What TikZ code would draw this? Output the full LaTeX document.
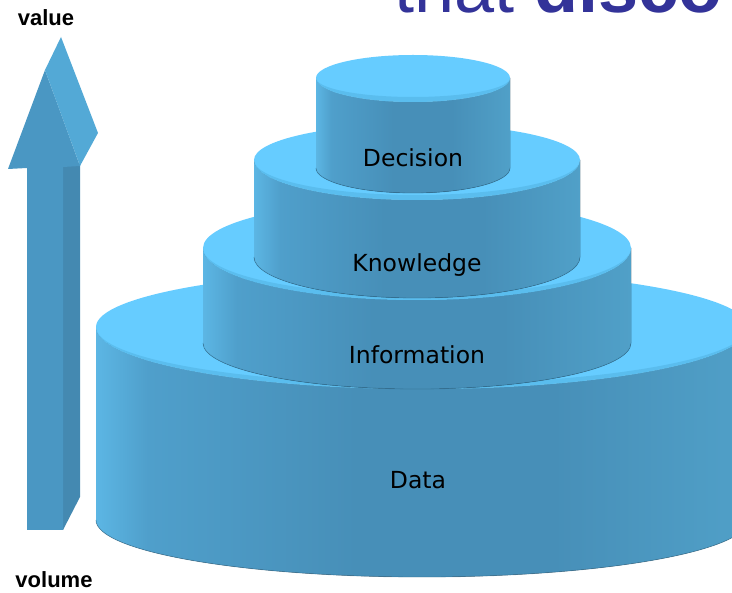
\documentclass[tikz,border=0pt]{standalone}
\usepackage{fontspec}
\setmainfont{Liberation Sans}
\newfontfamily\tierfont{DejaVu Sans}

\definecolor{sideA}{HTML}{5CB6E4}
\definecolor{sideB}{HTML}{4F9FCB}
\definecolor{sideC}{HTML}{478FB8}
\definecolor{sideD}{HTML}{50A0C8}
\definecolor{topc}{HTML}{66CCFF}
\definecolor{bevelc}{HTML}{5ABDEE}
\definecolor{rimshadow}{HTML}{2F6A8C}
\definecolor{arrfront}{HTML}{4A97C3}
\definecolor{arrside}{HTML}{4489B1}
\definecolor{arrlight}{HTML}{53A9D6}
\definecolor{titleblue}{HTML}{333399}

% side of a tier: bright rim on the left, darker body, slightly lighter right
\pgfdeclarehorizontalshading{cylside}{100bp}{%
  color(0bp)=(sideA); color(25bp)=(sideA); color(29bp)=(sideB);
  color(45bp)=(sideC); color(60bp)=(sideC); color(75bp)=(sideD); color(100bp)=(sideD)}

\tikzset{
  tierlabel/.style={font=\tierfont\fontsize{23.5}{26}\selectfont, text=black, inner sep=0pt},
  axislabel/.style={font=\bfseries\fontsize{22}{24}\selectfont, text=black, inner sep=0pt},
}

% #1 cx, #2 rx, #3 top y, #4 back radius of top, #5 front radius of top,
% #6 bottom y, #7 front radius of bottom
\newcommand\tier[7]{%
  \fill[shading=cylside]
    (#1-#2,#3) -- (#1-#2,#6)
    arc[start angle=180,end angle=0,x radius=#2,y radius=#7]
    -- (#1+#2,#3)
    arc[start angle=0,end angle=180,x radius=#2,y radius=#5] -- cycle;
  \draw[rimshadow, opacity=0.45, line width=0.8pt]
    (#1-#2,#6) arc[start angle=180,end angle=0,x radius=#2,y radius=#7];
  \fill[topc]
    (#1-#2,#3) arc[start angle=180,end angle=360,x radius=#2,y radius=#4]
    arc[start angle=0,end angle=180,x radius=#2,y radius=#5] -- cycle;
  \fill[bevelc]
    (#1-#2,#3) arc[start angle=180,end angle=0,x radius=#2,y radius=#5]
    arc[start angle=0,end angle=180,x radius=#2,y radius=#5-5] -- cycle;
}

\begin{document}
\begin{tikzpicture}[x=1pt,y=-1pt]
  \useasboundingbox (0,0) rectangle (732,593);
  \clip (0,0) rectangle (732,593);
  \fill[white] (0,0) rectangle (732,593);

  % heading running off the top edge
  \node[anchor=base west, inner sep=0pt, text=titleblue,
        font=\fontsize{72}{72}\selectfont] (title) at (394,13) {that \textbf{disco}};

  % stacked tiers, from the bottom one upwards
  \tier{422}{326}{327}{57}{62}{520}{57}
  \tier{417}{214}{248}{48}{52}{343}{46}
  \tier{417}{163}{160}{36}{40}{257}{41}
  \tier{413}{97}{78}{23}{24}{168}{25}

  \node[tierlabel, anchor=base] (data) at (418,489) {Data};
  \node[tierlabel, anchor=base] (information) at (417,364) {Information};
  \node[tierlabel, anchor=base] (knowledge) at (417,272) {Knowledge};
  \node[tierlabel, anchor=base] (decision) at (413,167) {Decision};

  % 3D upward arrow
  \fill[arrside] (63,530) -- (80,497) -- (80,163) -- (63,167) -- cycle;
  \fill[arrfront] (27,530) -- (27,168) -- (8,169) -- (45,70) -- (80,166)
                  -- (63,167) -- (63,530) -- cycle;
  \fill[arrlight] (45,70) -- (61,37) -- (98,133) -- (80,166) -- cycle;

  \node[axislabel, anchor=base] (value) at (46,26) {value};
  \node[axislabel, anchor=base] (volume) at (54,588) {volume};
\end{tikzpicture}
\end{document}
